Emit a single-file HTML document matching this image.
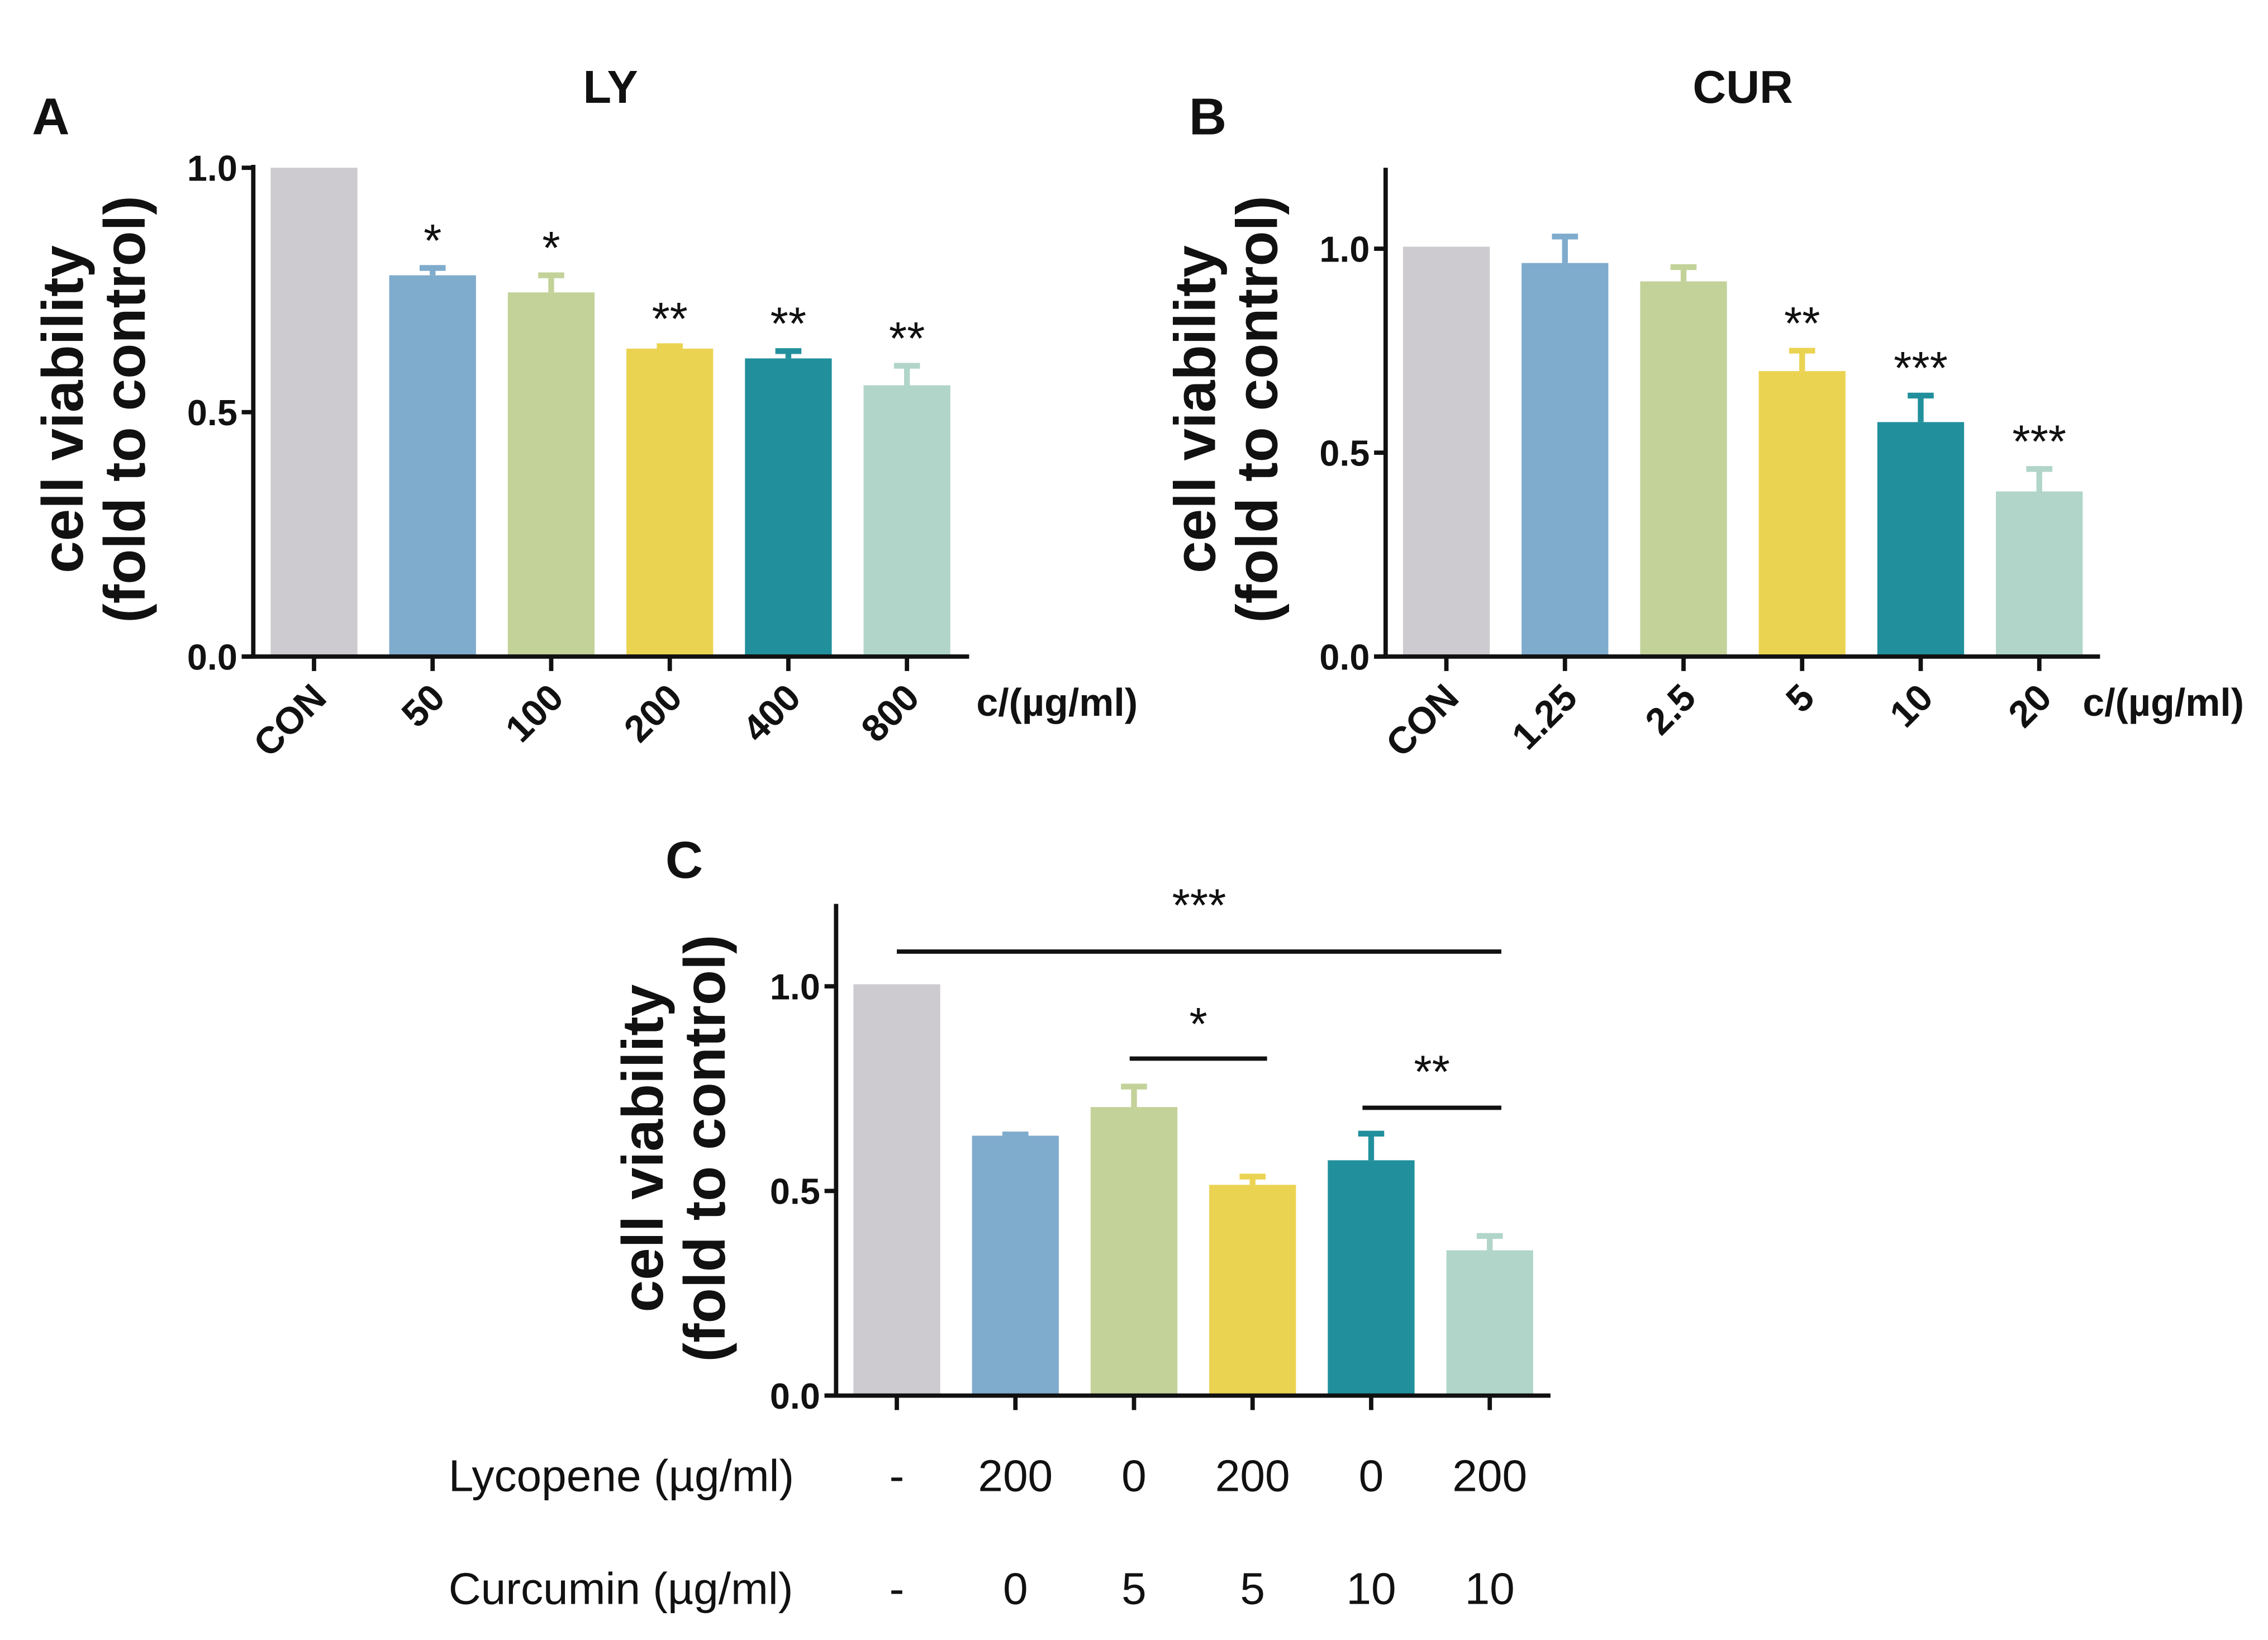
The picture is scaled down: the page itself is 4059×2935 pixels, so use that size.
<!DOCTYPE html>
<html><head><meta charset="utf-8">
<style>
html,body{margin:0;padding:0;background:#fff;}
svg{display:block;}
text{font-family:"Liberation Sans Narrow","Liberation Sans",sans-serif;fill:#111;}
.wide{font-family:"Liberation Sans",sans-serif;}
</style></head>
<body>
<svg id="fig" width="4059" height="2935" viewBox="0 0 1568 1134" xmlns="http://www.w3.org/2000/svg"></svg>
<script>
const colors = ['#cdcbcf','#7fabcd','#c3d299','#ebd352','#21909c','#b1d5c9'];

const catsA = ['CON','50','100','200','400','800'];
const valsA = [1.0, 0.78, 0.745, 0.63, 0.61, 0.555];
const errA  = [0, 0.015, 0.035, 0.005, 0.015, 0.04];
const starsA = ['', '*', '*', '**', '**', '**'];
const ticksA = [0, 0.5, 1.0];

const catsB = ['CON','1.25','2.5','5','10','20'];
const valsB = [1.005, 0.965, 0.92, 0.70, 0.575, 0.405];
const errB  = [0, 0.065, 0.035, 0.05, 0.065, 0.055];
const starsB = ['', '', '', '**', '***', '***'];
const ticksB = [0, 0.5, 1.0];

const lycoC = ['-','200','0','200','0','200'];
const curcC = ['-','0','5','5','10','10'];
const valsC = [1.005, 0.635, 0.705, 0.515, 0.575, 0.355];
const errC  = [0, 0.003, 0.05, 0.02, 0.065, 0.035];
const ticksC = [0, 0.5, 1.0];

const NS = 'http://www.w3.org/2000/svg';
const svg = document.getElementById('fig');
function mk(tag, attrs, parent){
  const e = document.createElementNS(NS, tag);
  for (const k in attrs) e.setAttribute(k, attrs[k]);
  (parent||svg).appendChild(e);
  return e;
}

function panel(cfg){
  const g = mk('g', {});
  
  
  const y = v => cfg.y0 - v * (cfg.y0 - cfg.y1);
  const xc = i => cfg.xStart + cfg.step * i + cfg.bw / 2;
  cfg.vals.forEach((v, i) => {
    const r = mk('rect', {x: cfg.xStart + cfg.step*i, y: y(v), width: cfg.bw, height: cfg.y0 - y(v), fill: colors[i]}, g);
    
    
    const e = cfg.err[i];
    if (e > 0) {
      const eb = mk('path', {d: `M${xc(i)} ${y(v)} V${y(v+e)} M${xc(i)-9} ${y(v+e)} H${xc(i)+9}`, stroke: colors[i], 'stroke-width': 4, fill: 'none'}, g);
      
      
    }
    if (cfg.stars && cfg.stars[i]) {
      const s = mk('text', {x: xc(i), y: y(v+e) - 8, 'text-anchor': 'middle', 'font-size': 32, class: 'wide'}, g);
      s.textContent = cfg.stars[i];
      
      
    }
  });
  const ax = mk('path', {d: `M${cfg.ax} ${cfg.yTop} V${cfg.y0} M${cfg.ax-8} ${cfg.y0} H${cfg.axEnd}`, stroke: '#111', 'stroke-width': 3, fill: 'none'}, g);
  
  
  cfg.ticks.forEach(t => {
    mk('line', {x1: cfg.ax-8, x2: cfg.ax, y1: y(t), y2: y(t), stroke: '#111', 'stroke-width': 3}, g);
    const tl = mk('text', {x: cfg.ax - 11, y: y(t) + 9, 'text-anchor': 'end', 'font-size': 25, 'font-weight': 'bold'}, g);
    tl.textContent = t.toFixed(1);
    
    
  });
  cfg.vals.forEach((v, i) => {
    mk('line', {x1: xc(i), x2: xc(i), y1: cfg.y0, y2: cfg.y0 + 10, stroke: '#111', 'stroke-width': 3}, g);
    if (cfg.cats) {
      const t = mk('text', {x: xc(i) + 10, y: cfg.y0 + 30, 'text-anchor': 'end', 'font-size': 26, 'font-weight': 'bold', transform: `rotate(-45 ${xc(i)+10} ${cfg.y0+30})`}, g);
      t.textContent = cfg.cats[i];
      
      
    }
  });
  const yl = mk('text', {transform: `translate(${cfg.ylx} ${cfg.yly}) rotate(-90)`, 'text-anchor': 'middle', 'font-size': 40, 'font-weight': 'bold', class: 'wide'}, g);
  
  
  const t1 = mk('tspan', {x: 0, dy: 0}, yl); t1.textContent = 'cell viability';
  const t2 = mk('tspan', {x: 0, dy: 43}, yl); t2.textContent = '(fold to control)';
  return {g, xc, y};
}

function label(txt, x, y, size, name, extra){
  const t = mk('text', Object.assign({x, y, 'font-size': size, 'font-weight': 'bold'}, extra||{}));
  t.textContent = txt;
  
  
  return t;
}

panel({name:'panel-a', vals: valsA, err: errA, stars: starsA, cats: catsA, ticks: ticksA,
  xStart: 187, step: 82, bw: 60, y0: 454, y1: 116, yTop: 114, ax: 175, axEnd: 670, ylx: 57, yly: 283});
label('A', 22, 93, 36, 'panel-a-label', {class:'wide'});
label('LY', 422, 71, 32, 'panel-a-title', {'text-anchor':'middle', class:'wide'});
label('c/(µg/ml)', 675, 495, 27, 'x-axis-unit-a');

panel({name:'panel-b', vals: valsB, err: errB, stars: starsB, cats: catsB, ticks: ticksB,
  xStart: 970, step: 82, bw: 60, y0: 454, y1: 172, yTop: 116, ax: 958, axEnd: 1452, ylx: 840, yly: 283});
label('B', 822, 93, 36, 'panel-b-label', {class:'wide'});
label('CUR', 1205, 71, 32, 'panel-b-title', {'text-anchor':'middle', class:'wide'});
label('c/(µg/ml)', 1440, 495, 27, 'x-axis-unit-b');

const pc = panel({name:'panel-c', vals: valsC, err: errC, stars: null, cats: null, ticks: ticksC,
  xStart: 590, step: 82, bw: 60, y0: 965, y1: 682, yTop: 625, ax: 578, axEnd: 1072, ylx: 458, yly: 794});
label('C', 460, 607, 36, 'panel-c-label', {class:'wide'});

function bracket(x1, x2, yy, stars, sy, name){
  const l = mk('line', {x1, x2, y1: yy, y2: yy, stroke: '#111', 'stroke-width': 3});
  
  
  const t = mk('text', {x: (x1+x2)/2, y: sy, 'text-anchor': 'middle', 'font-size': 32, class: 'wide'});
  t.textContent = stars;
  
  
}
bracket(620, 1038, 658, '***', 637, 'bracket-all');
bracket(781, 876, 732, '*', 719, 'bracket-5');
bracket(942, 1038, 766, '**', 752, 'bracket-10');

function rowText(txt, x, y, name, anchor){
  const t = mk('text', {x, y, 'font-size': 31, 'text-anchor': anchor});
  t.textContent = txt;
  
  
}
rowText('Lycopene (µg/ml)', 310, 1031, 'lycopene-row-label', 'start');
rowText('Curcumin (µg/ml)', 310, 1109, 'curcumin-row-label', 'start');
lycoC.forEach((v, i) => rowText(v, pc.xc(i), 1031, 'lycopene-value', 'middle'));
curcC.forEach((v, i) => rowText(v, pc.xc(i), 1109, 'curcumin-value', 'middle'));
</script>
</body></html>
